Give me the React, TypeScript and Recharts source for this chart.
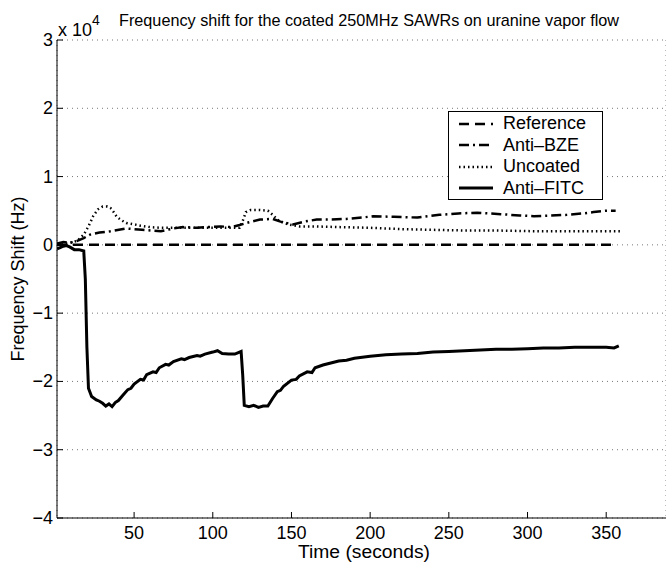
import React from "react";
import {
  LineChart,
  Line,
  XAxis,
  YAxis,
  CartesianGrid,
} from "recharts";

// values are in Hz; axis shows them in units of 10^4
const xTicks = [50, 100, 150, 200, 250, 300, 350];
const yTicks = [-40000, -30000, -20000, -10000, 0, 10000, 20000, 30000];

const referenceT = [1, 354];
const referenceV = [0, 0];

const antiBzeT = [1, 5, 9, 13, 18, 22, 28, 35, 45, 55, 67, 75, 81, 90, 96, 105, 112, 117, 123, 130, 138, 143, 151, 158, 166, 175, 185, 195, 202, 215, 230, 244, 256, 268, 283, 295, 304, 315, 325, 335, 342, 350, 356];
const antiBzeV = [200, 400, 300, 500, 1000, 1500, 1800, 2000, 2400, 2200, 2000, 2400, 2600, 2500, 2600, 2700, 2600, 2900, 3300, 3700, 3800, 3400, 3000, 3400, 3700, 3700, 3800, 4000, 4200, 4100, 4000, 4400, 4600, 4700, 4500, 4300, 4200, 4300, 4400, 4600, 4800, 5000, 5000];

const uncoatedT = [1, 8, 14, 18, 21, 24, 27, 30, 33, 35, 37, 39, 42, 45, 50, 54, 60, 67, 80, 95, 110, 117, 119, 121, 124, 130, 135, 138, 141, 145, 150, 155, 165, 180, 200, 220, 240, 260, 280, 304, 330, 359];
const uncoatedV = [0, 200, 600, 1500, 2700, 4200, 5200, 5600, 5600, 5400, 4800, 4100, 3600, 3200, 3000, 2800, 2600, 2500, 2500, 2500, 2500, 2500, 3500, 4800, 5100, 5100, 5000, 4400, 3700, 3200, 2900, 2700, 2700, 2600, 2500, 2300, 2200, 2100, 2100, 2000, 2000, 2000];

const antiFitcT = [1, 3, 5, 7, 9, 12, 15, 18, 19, 20, 21, 23, 26, 28, 30, 32, 34, 36, 38, 40, 43, 46, 48, 50, 54, 56, 58, 62, 64, 66, 70, 72, 75, 80, 82, 85, 90, 92, 95, 100, 103, 106, 110, 114, 117, 118, 119, 120, 123, 126, 129, 132, 135, 138, 141, 143, 145, 150, 153, 155, 160, 163, 165, 170, 175, 180, 185, 190, 200, 210, 220, 230, 240, 250, 260, 270, 280, 290, 300, 310, 320, 330, 340, 350, 355, 358];
const antiFitcV = [-600, -400, -200, -100, -300, -700, -700, -900, -5000, -15000, -21000, -22200, -22700, -22900, -23200, -23600, -23300, -23700, -23100, -22800, -22000, -21200, -21000, -20400, -19700, -19800, -19000, -18600, -18700, -18000, -17500, -17600, -17100, -16700, -16800, -16500, -16200, -16300, -16000, -15700, -15500, -15900, -16000, -16000, -15700, -15600, -19000, -23500, -23700, -23500, -23800, -23600, -23600, -22500, -21500, -21300, -20700, -19800, -19700, -19200, -18600, -18700, -18000, -17600, -17300, -17000, -16900, -16600, -16300, -16100, -16000, -15900, -15700, -15600, -15500, -15400, -15300, -15300, -15200, -15100, -15100, -15000, -15000, -15000, -15100, -14800];

const toRows = (t: number[], v: number[]) => t.map((tt, i) => ({ t: tt, v: v[i] }));

const FONT = "'Liberation Sans', Arial, Helvetica, sans-serif";

const series = [
  { name: "Reference", rows: toRows(referenceT, referenceV), dash: "10 6", w: 2.5 },
  { name: "Anti-BZE", rows: toRows(antiBzeT, antiBzeV), dash: "10 4 2 4", w: 2.5 },
  { name: "Uncoated", rows: toRows(uncoatedT, uncoatedV), dash: "1.5 3", w: 2.5 },
  { name: "Anti-FITC", rows: toRows(antiFitcT, antiFitcV), dash: undefined, w: 3 },
];

const fmtY = (v: number) => {
  const n = v / 10000;
  return n < 0 ? "\u2212" + Math.abs(n) : String(n);
};

const BottomTick = (props: any) => {
  const { x, y, payload } = props;
  return (
    <g>
      <line x1={x} y1={y} x2={x} y2={y - 6} stroke="#000" strokeWidth={1} />
      <text x={x} y={y + 21} textAnchor="middle" fontSize={18} fontFamily={FONT} fill="#000">
        {payload.value}
      </text>
    </g>
  );
};

const TopTick = (props: any) => {
  const { x, y } = props;
  return <line x1={x} y1={y} x2={x} y2={y + 6} stroke="#000" strokeWidth={1} />;
};

const LeftTick = (props: any) => {
  const { x, y, payload } = props;
  return (
    <g>
      <line x1={x} y1={y} x2={x + 6} y2={y} stroke="#000" strokeWidth={1} />
      <text x={x - 4} y={y + 6} textAnchor="end" fontSize={18} fontFamily={FONT} fill="#000">
        {fmtY(payload.value)}
      </text>
    </g>
  );
};

function LegendBox() {
  return (
    <div
      style={{
        position: "absolute",
        left: 448,
        top: 111,
        width: 153,
        height: 86,
        border: "1px solid #000",
        background: "#fff",
        fontFamily: FONT,
        fontSize: 18,
        paddingTop: 1,
        boxSizing: "content-box",
      }}
    >
      {series.map((s) => (
        <div key={s.name} style={{ display: "flex", alignItems: "center", height: 21.5 }}>
          <svg width={54} height={20} style={{ flex: "none" }}>
            <line x1={10} y1={10} x2={44} y2={10} stroke="#000" strokeWidth={s.w} strokeDasharray={s.dash} />
          </svg>
          <span>{s.name.replace("-", "\u2013")}</span>
        </div>
      ))}
    </div>
  );
}

export default function App() {
  return (
    <div style={{ position: "absolute", left: 0, top: 0, width: 666, height: 562, background: "#fff", overflow: "hidden" }}>
      <LineChart width={666} height={562} margin={{ top: 40, right: 0, left: 0, bottom: 0 }}>
        <CartesianGrid stroke="#777" strokeDasharray="1 4" />
        <XAxis
          xAxisId="b"
          type="number"
          dataKey="t"
          domain={[1, 388]}
          ticks={xTicks}
          allowDataOverflow
          height={44}
          tickSize={0}
          tickMargin={0}
          tickLine={false}
          axisLine={{ stroke: "#000" }}
          tick={<BottomTick />}
        />
        <XAxis
          xAxisId="top"
          orientation="top"
          type="number"
          dataKey="t"
          domain={[1, 388]}
          ticks={xTicks}
          allowDataOverflow
          height={0}
          tickSize={0}
          tickMargin={0}
          tickLine={false}
          axisLine={{ stroke: "#000" }}
          tick={<TopTick />}
        />
        <YAxis
          type="number"
          domain={[-40000, 30000]}
          ticks={yTicks}
          allowDataOverflow
          width={57}
          tickSize={0}
          tickMargin={0}
          tickLine={false}
          axisLine={{ stroke: "#000" }}
          tick={<LeftTick />}
        />
        {series.map((s) => (
          <Line
            key={s.name}
            xAxisId="b"
            data={s.rows}
            dataKey="v"
            type="linear"
            stroke="#000"
            strokeWidth={s.w}
            strokeDasharray={s.dash}
            dot={false}
            activeDot={false}
            isAnimationActive={false}
          />
        ))}
      </LineChart>
      <svg width={666} height={562} style={{ position: "absolute", left: 0, top: 0, pointerEvents: "none" }}>
        <text
          x={119}
          y={26}
          fontSize={17}
          fontFamily={FONT}
          fill="#000"
          textLength={500}
          lengthAdjust="spacingAndGlyphs"
        >
          Frequency shift for the coated 250MHz SAWRs on uranine vapor flow
        </text>
        <text x={58} y={36} fontSize={18} fontFamily={FONT} fill="#000">
          x 10
          <tspan fontSize={14} dy={-11}>4</tspan>
        </text>
        <text
          x={298}
          y={558}
          fontSize={18}
          fontFamily={FONT}
          fill="#000"
          textLength={132}
          lengthAdjust="spacingAndGlyphs"
        >
          Time (seconds)
        </text>
        <text
          x={24}
          y={279}
          textAnchor="middle"
          fontSize={18}
          fontFamily={FONT}
          fill="#000"
          transform="rotate(-90 24 279)"
        >
          Frequency Shift (Hz)
        </text>
      </svg>
      <LegendBox />
    </div>
  );
}
